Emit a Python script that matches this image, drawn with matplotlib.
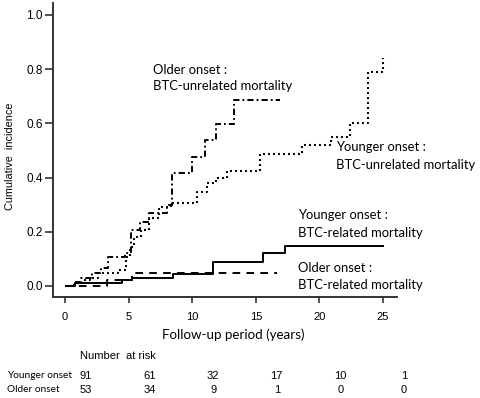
import matplotlib
matplotlib.use("Agg")
import matplotlib.pyplot as plt

plt.rcParams['lines.scale_dashes'] = False

# ---- data ----
older_unrel_t = [0, 0.7, 1.3, 2.1, 2.8, 3.4, 4.7, 5.2, 5.9, 6.6, 8.0, 8.4, 10.0, 11.0, 11.9, 13.3, 16.9]
older_unrel_v = [0, 0.016, 0.03, 0.047, 0.066, 0.108, 0.12, 0.207, 0.237, 0.27, 0.30, 0.416, 0.477, 0.539, 0.597, 0.686, 0.686]

younger_unrel_t = [0, 0.8, 1.5, 2.0, 2.6, 4.2, 4.8, 5.1, 5.4, 6.0, 6.6, 7.4, 8.3, 10.4, 11.2, 11.9, 12.7, 15.3, 18.6, 20.9, 22.4, 23.8, 25.0]
younger_unrel_v = [0, 0.01, 0.02, 0.03, 0.047, 0.06, 0.108, 0.145, 0.18, 0.207, 0.25, 0.29, 0.307, 0.348, 0.38, 0.40, 0.425, 0.487, 0.52, 0.55, 0.60, 0.79, 0.84]

younger_rel_t = [0, 0.8, 4.5, 5.3, 8.5, 11.6, 15.6, 17.3, 25.1]
younger_rel_v = [0, 0.01, 0.02, 0.028, 0.044, 0.088, 0.12, 0.149, 0.149]

older_rel_t = [0, 3.3, 5.3, 16.7]
older_rel_v = [0, 0.022, 0.048, 0.048]

risk_times = [0, 5, 10, 15, 20, 25]
risk_younger = [91, 61, 32, 17, 10, 1]
risk_older = [53, 34, 9, 1, 0, 0]

x_ticks = [0, 5, 10, 15, 20, 25]
y_ticks = [0.0, 0.2, 0.4, 0.6, 0.8, 1.0]

W, H = 480, 398
fig = plt.figure(figsize=(W / 100, H / 100), dpi=100)

def fx(x):
    return x / W

def fy(y):
    return 1 - y / H

ax = fig.add_axes([fx(53), fy(297), fx(397) - fx(53), fy(3) - fy(297)])
ax.set_xlim(-0.94, 26.1)
ax.set_ylim(-0.041, 1.044)

lw = 1.4
ax.step(younger_rel_t, younger_rel_v, where='post', color='black', lw=lw, solid_capstyle='butt')
l2, = ax.step(older_rel_t, older_rel_v, where='post', color='black', lw=lw)
l2.set_dashes([5.5, 4.5])
l3, = ax.step(older_unrel_t, older_unrel_v, where='post', color='black', lw=lw)
l3.set_dashes([4.5, 2.2, 1.3, 2.2])
l4, = ax.step(younger_unrel_t, younger_unrel_v, where='post', color='black', lw=1.5)
l4.set_dashes([1.4, 2.2])

for s in ['top', 'right']:
    ax.spines[s].set_visible(False)
for s in ['left', 'bottom']:
    ax.spines[s].set_linewidth(1.4)
    ax.spines[s].set_color('#333333')

ax.set_xticks(x_ticks)
ax.set_yticks(y_ticks)
ax.set_xticklabels([str(v) for v in x_ticks], fontfamily='Liberation Sans', fontsize=8)
ax.set_yticklabels([f"{v:.1f}" for v in y_ticks], fontfamily='Liberation Sans', fontsize=8.5)
ax.tick_params(axis='x', length=4.5, width=1.2, pad=6, color='#333333')
ax.tick_params(axis='y', length=6, width=1.2, pad=1.5, color='#333333')

# Y label
fig.text(fx(10), fy(156), "Cumulative  incidence", rotation=90, ha='center', va='center',
         fontfamily='Liberation Sans', fontsize=7.8)
# X label
fig.text(fx(233), fy(335), "Follow-up period (years)", ha='center', va='center',
         fontfamily='Lato', fontsize=9.6)

# annotations
ann = dict(fontfamily='Lato', fontsize=9.4, ha='left', va='center')
fig.text(fx(153), fy(70), "Older onset :", **ann)
fig.text(fx(153), fy(86), "BTC-unrelated mortality", **ann)
fig.text(fx(336), fy(147), "Younger onset :", **ann)
fig.text(fx(336), fy(165), "BTC-unrelated mortality", **ann)
fig.text(fx(298), fy(215), "Younger onset :", **ann)
fig.text(fx(298), fy(233), "BTC-related mortality", **ann)
fig.text(fx(298), fy(268), "Older onset :", **ann)
fig.text(fx(298), fy(285), "BTC-related mortality", **ann)

# number at risk
fig.text(fx(80), fy(356), "Number  at risk", ha='left', va='center',
         fontfamily='Liberation Sans', fontsize=8)
fig.text(fx(7), fy(376), "Younger onset", ha='left', va='center', fontfamily='Lato', fontsize=7.3)
fig.text(fx(7), fy(390), "Older onset", ha='left', va='center', fontfamily='Lato', fontsize=7.3)
for t, a, b in zip(risk_times, risk_younger, risk_older):
    xd = ax.transData.transform((t + 1.65, 0))[0] / W
    fig.text(xd, fy(376), str(a), ha='center', va='center', fontfamily='Liberation Sans', fontsize=8)
    fig.text(xd, fy(390), str(b), ha='center', va='center', fontfamily='Liberation Sans', fontsize=8)

fig.savefig("out.png", dpi=100)
